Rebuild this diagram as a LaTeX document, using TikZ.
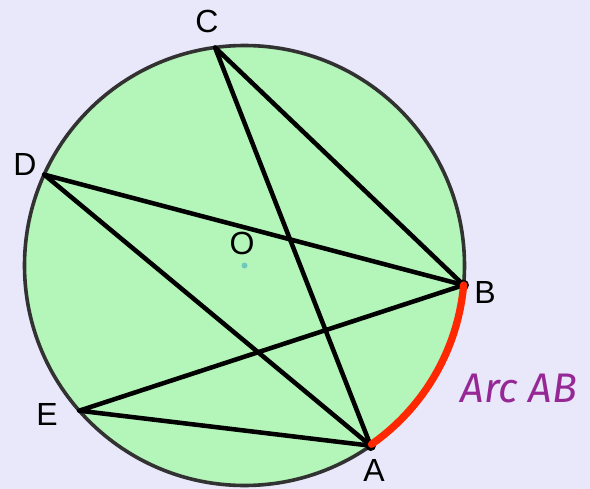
\documentclass[tikz,border=0pt]{standalone}
\usepackage{fontspec}
\setmainfont{Liberation Sans}
\newfontfamily\arcfont{Fira Sans}
\usetikzlibrary{calc}
\definecolor{bgcol}{RGB}{232,232,250}
\definecolor{disc}{RGB}{180,245,185}
\definecolor{rim}{RGB}{50,50,50}
\definecolor{arcred}{RGB}{255,40,0}
\definecolor{arcpurple}{RGB}{150,40,150}
\definecolor{centre}{RGB}{110,200,190}
\tikzset{
  rimline/.style={draw=rim,fill=disc,line width=2.7pt},
  chord/.style={black,line width=3.4pt,line cap=round},
  arcline/.style={arcred,line width=5.5pt,line cap=round},
  vertex/.style={circle,fill=black,inner sep=0pt,minimum size=8pt},
  ptlabel/.style={font=\fontsize{24}{28}\selectfont,text=black,inner sep=0pt},
}

\begin{document}
\begin{tikzpicture}[x=0.75pt,y=-0.75pt]
    \useasboundingbox[fill=bgcol] (0,0) rectangle (590,489);

    \coordinate (O) at (244.5,265.5);
    \draw[rimline] (O) circle[radius=220];

    % points on the circle
    \coordinate (A) at ($(O)+(55:220)$);
    \coordinate (B) at ($(O)+(5.1:220)$);
    \coordinate (C) at ($(O)+(262.3:220)$);
    \coordinate (D) at ($(O)+(204.4:220)$);
    \coordinate (E) at ($(O)+(138.7:220)$);

    % chords
    \foreach \p in {C,D,E}
      \draw[chord] (\p) -- (A) (\p) -- (B);

    \node[vertex] (dotA) at (A) {};
    \node[vertex] (dotB) at (B) {};
    \draw[arcline] (B) arc[start angle=5.1,end angle=55,radius=218];
    \node[circle,fill=centre,inner sep=0pt,minimum size=4.5pt] (dotO) at (O) {};

    \node[ptlabel] (lblA) at (374,470) {A};
    \node[ptlabel] (lblB) at (485,292) {B};
    \node[ptlabel] (lblC) at (207,21) {C};
    \node[ptlabel] (lblD) at (25,164) {D};
    \node[ptlabel] (lblE) at (47,414) {E};
    \node[ptlabel] (lblO) at (242,243) {O};
    \node[font=\arcfont\itshape\fontsize{31}{36}\selectfont,text=arcpurple,inner sep=0pt]
      (lblArc) at (519,389) {Arc AB};

  \end{tikzpicture}
\end{document}
